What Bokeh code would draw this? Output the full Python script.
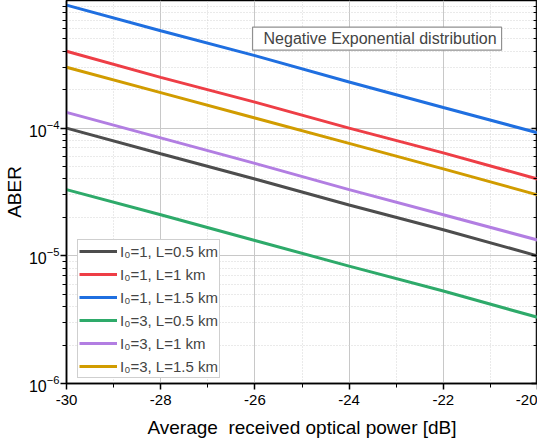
from bokeh.plotting import figure
from bokeh.models import (FixedTicker, LogAxis, Range1d, Legend, LegendItem,
                          Label, CustomJSTickFormatter, LogTickFormatter)
from bokeh.embed import file_html
from bokeh.resources import INLINE

# ---- data ----
power_db = [-30, -28, -26, -24, -22, -20]
aber_i1_l05 = [1.0e-4, 6.3e-5, 4.0e-5, 2.5e-5, 1.6e-5, 1.0e-5]
aber_i1_l1 = [4.0e-4, 2.5e-4, 1.6e-4, 1.0e-4, 6.4e-5, 4.0e-5]
aber_i1_l15 = [9.2e-4, 5.8e-4, 3.7e-4, 2.3e-4, 1.45e-4, 9.2e-5]
aber_i3_l05 = [3.3e-5, 2.1e-5, 1.32e-5, 8.3e-6, 5.3e-6, 3.3e-6]
aber_i3_l1 = [1.33e-4, 8.4e-5, 5.3e-5, 3.3e-5, 2.1e-5, 1.33e-5]
aber_i3_l15 = [3.0e-4, 1.9e-4, 1.2e-4, 7.6e-5, 4.8e-5, 3.0e-5]

series_labels = ["I\u2080=1, L=0.5 km", "I\u2080=1, L=1 km", "I\u2080=1, L=1.5 km",
                 "I\u2080=3, L=0.5 km", "I\u2080=3, L=1 km", "I\u2080=3, L=1.5 km"]
series_values = [aber_i1_l05, aber_i1_l1, aber_i1_l15, aber_i3_l05, aber_i3_l1, aber_i3_l15]
series_colors = ["#4d4d4d", "#ee3e46", "#1f6fe0", "#2eaa6a", "#b27ee2", "#d19c00"]

x_ticks = [-30, -28, -26, -24, -22, -20]
x_minor = [-29, -27, -25, -23, -21]
y_ticks = [1e-6, 1e-5, 1e-4]
y_minor = [m * d for d in [1e-6, 1e-5, 1e-4] for m in range(2, 10)]

title_text = "Negative Exponential distribution"
x_label = "Average \u00a0received optical power [dB]"
y_label = "ABER"

FONT = "Liberation Sans"

p = figure(width=537, height=440, y_axis_type="log",
           x_range=Range1d(-30, -20), y_range=Range1d(1e-6, 1e-3),
           output_backend="svg", toolbar_location=None,
           min_border_left=56, min_border_right=0, min_border_top=0,
           min_border_bottom=56)
p.outline_line_color = "black"
p.outline_line_width = 1.5

items = []
for lab, vals, col in zip(series_labels, series_values, series_colors):
    r = p.line(power_db, vals, line_color=col, line_width=3)
    items.append(LegendItem(label=lab, renderers=[r]))

# axes
xa = p.xaxis[0]
xa.ticker = FixedTicker(ticks=x_ticks, minor_ticks=x_minor)
xa.formatter = CustomJSTickFormatter(code="return tick.toFixed(0);")
xa.axis_label = x_label
xa.axis_label_text_font = FONT
xa.axis_label_text_font_size = "19px"
xa.axis_label_text_font_style = "normal"
xa.axis_label_text_color = "black"
xa.axis_label_standoff = 9
xa.major_label_text_font = FONT
xa.major_label_text_font_size = "15px"
xa.major_label_text_color = "black"
xa.major_label_standoff = 5
xa.axis_line_color = "black"
xa.axis_line_width = 1.5
xa.major_tick_out = 6
xa.major_tick_in = 0
xa.minor_tick_out = 4
xa.minor_tick_in = 0
xa.major_tick_line_color = "black"
xa.minor_tick_line_color = "black"
xa.major_tick_line_width = 1.5

ya = p.yaxis[0]
ya.ticker = FixedTicker(ticks=y_ticks, minor_ticks=y_minor)
ya.formatter = LogTickFormatter()
ya.axis_label = y_label
ya.axis_label_text_font = FONT
ya.axis_label_text_font_size = "19px"
ya.axis_label_text_font_style = "normal"
ya.axis_label_text_color = "black"
ya.axis_label_standoff = 1
ya.major_label_text_font = FONT
ya.major_label_text_font_size = "16px"
ya.major_label_text_color = "black"
ya.major_label_standoff = 1
ya.axis_line_color = "black"
ya.axis_line_width = 1.5
ya.major_tick_out = 6
ya.major_tick_in = 0
ya.minor_tick_out = 4
ya.minor_tick_in = 0
ya.major_tick_line_color = "black"
ya.minor_tick_line_color = "black"
ya.major_tick_line_width = 1.5

ra = LogAxis(ticker=FixedTicker(ticks=y_ticks, minor_ticks=y_minor))
ra.major_label_text_font_size = "1px"
ra.major_label_text_color = None
ra.major_label_standoff = 0
ra.axis_line_color = "#555555"
ra.axis_line_width = 1.5
ra.major_tick_in = 6
ra.major_tick_out = 0
ra.minor_tick_in = 4
ra.minor_tick_out = 0
ra.major_tick_line_color = "black"
ra.minor_tick_line_color = "black"
ra.major_tick_line_width = 1.5
p.add_layout(ra, "right")

# grids
p.xgrid.grid_line_color = "#c8c8c8"
p.xgrid.minor_grid_line_color = "#d4d4d4"
p.xgrid.minor_grid_line_dash = "1 2"
p.ygrid.grid_line_color = "#c8c8c8"
p.ygrid.minor_grid_line_color = "#d4d4d4"
p.ygrid.minor_grid_line_dash = "1 2"

legend = Legend(items=items, location=(11, 5))
legend.label_text_font = FONT
legend.label_text_font_size = "15px"
legend.label_height = 20
legend.glyph_width = 38
legend.glyph_height = 20
legend.spacing = 3
legend.padding = 1
legend.margin = 0
legend.label_standoff = 3
legend.border_line_color = "#a0a0a0"
legend.border_line_width = 1.5
legend.background_fill_alpha = 1
p.add_layout(legend, "center")

lbl = Label(x=-26.05, y=5.5e-4, text=title_text, text_font=FONT,
            text_font_size="16px", text_baseline="middle", text_align="left",
            y_offset=-5, border_line_color="#909090", border_line_width=1.2,
            background_fill_color="white",
            padding=dict(left=11, right=5, top=3, bottom=3))
p.add_layout(lbl)

open("out.html", "w").write(file_html(p, INLINE))
